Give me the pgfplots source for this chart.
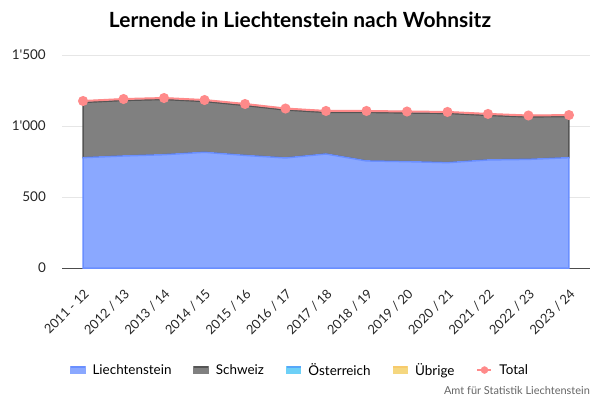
\documentclass[border=0pt]{standalone}
\usepackage{pgfplots}
\pgfplotsset{compat=1.18}
\usepackage{fontspec}
\setmainfont{Lato}
\definecolor{liech}{HTML}{8AA8FF}
\definecolor{liechl}{HTML}{6A8FFF}
\definecolor{schw}{HTML}{808080}
\definecolor{schwl}{HTML}{555555}
\definecolor{oest}{HTML}{6DD0F7}
\definecolor{uebr}{HTML}{F5D77F}
\definecolor{tot}{HTML}{FF8A8A}
\definecolor{gridc}{HTML}{E6E6E6}
\begin{document}
\begin{tikzpicture}[x=1bp,y=1bp]
\path[use as bounding box] (0,0) rectangle (600,400);
\pgfplotsset{
  common/.style={
    at={(62bp,132bp)}, anchor=south west,
    scale only axis, width=528bp, height=213bp,
    xmin=-0.52, xmax=12.52, ymin=0, ymax=1500,
    xtick={0,...,12}, ytick={0,500,1000,1500},
  }
}
\begin{axis}[common,
  axis x line*=bottom, axis y line*=left,
  x axis line style={draw=black!70, line width=0.8pt, -},
  y axis line style={draw=none},
  ymajorgrids, grid style={gridc, line width=0.7pt},
  xtick style={draw=none}, ytick style={draw=none},
  xticklabels={2011 - 12,2012 / 13,2013 / 14,2014 / 15,2015 / 16,2016 / 17,2017 / 18,2018 / 19,2019 / 20,2020 / 21,2021 / 22,2022 / 23,2023 / 24},
  xticklabel style={rotate=45, anchor=north east, inner sep=0pt, yshift=-14bp, xshift=-14bp, font=\fontsize{13}{13}\selectfont, color=black!85},
  yticklabels={0,500,1\textquotesingle 000,1\textquotesingle 500},
  yticklabel style={anchor=east, inner sep=0pt, xshift=-16bp, font=\fontsize{13.5}{13.5}\selectfont, color=black!85},
  stack plots=y,
  legend columns=5,
  legend style={at={(0.4508,-0.479)}, anchor=center, draw=none, fill=none,
    font=\fontsize{13.5}{13.5}\selectfont, column sep=5bp,
    /tikz/every even column/.append style={column sep=20bp}},
  legend cell align=left,
]
\addplot[draw=liechl, line width=1.5pt, fill=liech,
  legend image code/.code={\fill[liech] (0,-3.5bp) rectangle (14bp,3.5bp); \draw[liechl,line width=1.5pt] (0,3bp)--(14bp,3bp);}]
  coordinates {(0,777)(1,789)(2,798)(3,815)(4,793)(5,775)(6,803)(7,754)(8,749)(9,742)(10,761)(11,765)(12,777)} \closedcycle;
\addlegendentry{Liechtenstein}
\addplot[draw=schwl, line width=1.5pt, fill=schw,
  legend image code/.code={\fill[schw] (0,-3.5bp) rectangle (14bp,3.5bp); \draw[schwl,line width=1.5pt] (0,3bp)--(14bp,3bp);}]
  coordinates {(0,389)(1,391)(2,389)(3,358)(4,352)(5,338)(6,293)(7,342)(8,343)(9,347)(10,314)(11,299)(12,290)} \closedcycle;
\addlegendentry{Schweiz}
\addplot[draw=oest, line width=1pt, fill=oest,
  legend image code/.code={\fill[oest] (0,-3.5bp) rectangle (14bp,3.5bp); \draw[oest!80!blue,line width=1.5pt] (0,3bp)--(14bp,3bp);}]
  coordinates {(0,6)(1,6)(2,6)(3,6)(4,6)(5,6)(6,6)(7,6)(8,6)(9,6)(10,6)(11,6)(12,6)} \closedcycle;
\addlegendentry{Österreich}
\addplot[draw=tot!60!schw, line width=1pt, fill=uebr,
  legend image code/.code={\fill[uebr] (0,-3.5bp) rectangle (14bp,3.5bp); \draw[uebr!85!orange,line width=1.5pt] (0,3bp)--(14bp,3bp);}]
  coordinates {(0,4)(1,4)(2,4)(3,4)(4,4)(5,4)(6,4)(7,4)(8,4)(9,4)(10,4)(11,4)(12,4)} \closedcycle;
\addlegendentry{Übrige}
\addlegendimage{legend image code/.code={\draw[tot,line width=2pt] (0,0)--(14bp,0); \fill[tot] (7bp,0) circle (3.5bp);}}
\addlegendentry{Total}
\end{axis}
\begin{axis}[common, hide axis]
\addplot[tot, line width=2pt, mark=*, mark size=4bp, mark options={fill=tot, draw=tot}]
  coordinates {(0,1176)(1,1190)(2,1197)(3,1183)(4,1155)(5,1123)(6,1106)(7,1106)(8,1102)(9,1099)(10,1085)(11,1074)(12,1077)};
\end{axis}
\node[font=\fontsize{21}{21}\selectfont\bfseries] at (300,380) {Lernende in Liechtenstein nach Wohnsitz};
\node[anchor=east, font=\fontsize{11}{11}\selectfont, color=black!60, inner sep=0pt] at (590,9) {Amt für Statistik Liechtenstein};
\end{tikzpicture}
\end{document}
